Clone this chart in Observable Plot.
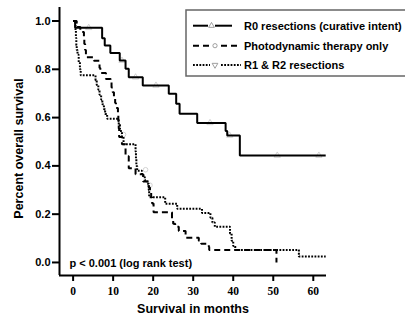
<!DOCTYPE html>
<html>
<head>
<meta charset="utf-8">
<script src="https://cdn.jsdelivr.net/npm/d3@7"></script>
<script src="https://cdn.jsdelivr.net/npm/@observablehq/plot@0.6"></script>
<style>
  html, body { margin: 0; padding: 0; background: #fff; overflow: hidden; }
  #wrap { position: relative; width: 405px; height: 320px; }
</style>
</head>
<body>
<div id="wrap"></div>
<script>
// ---------- data ----------
const seriesNames = ["R0 resections (curative intent)", "Photodynamic therapy only", "R1 & R2 resections"];

const r0Months = [0, 0.5, 7.25, 7.9, 9.3, 11.65, 13.1, 13.9, 17.4, 23.9, 25.75, 26.6, 31, 38.1, 38.5, 41.65, 63.1];
const r0Surv   = [1.0, 0.972, 0.929, 0.899, 0.868, 0.836, 0.802, 0.767, 0.733, 0.699, 0.657, 0.616, 0.578, 0.545, 0.526, 0.443, 0.443];

const pdtMonths = [0, 0.9, 1.8, 2.7, 2.8, 3.0, 3.2, 5.2, 6.6, 6.8, 8.2, 9.4, 9.6, 9.9, 10.2, 10.5, 10.7, 11.2, 11.3, 11.4, 11.5, 12.2, 13.1, 13.9, 15.6, 17.5, 18.9, 19.2, 19.5, 19.75, 20.1, 24.7, 25.0, 25.5, 26.4, 28.1, 31.4, 32.0, 33.9, 34.0, 50.8];
const pdtSurv   = [1.0, 0.975, 0.955, 0.93, 0.905, 0.88, 0.85, 0.835, 0.805, 0.785, 0.76, 0.745, 0.725, 0.705, 0.685, 0.66, 0.64, 0.61, 0.585, 0.555, 0.52, 0.49, 0.44, 0.39, 0.365, 0.335, 0.31, 0.29, 0.27, 0.244, 0.208, 0.18, 0.16, 0.148, 0.13, 0.102, 0.09, 0.077, 0.065, 0.052, 0.0];

const r12Months = [0, 0.6, 0.7, 0.8, 0.9, 1.1, 1.4, 1.7, 1.9, 5.6, 5.9, 6.3, 6.6, 7.0, 7.3, 7.7, 8.0, 8.5, 11.4, 11.7, 12.2, 12.6, 15.6, 15.7, 15.8, 16.0, 17.2, 17.9, 18.5, 18.9, 19.0, 23.0, 26.0, 32.2, 34.3, 34.8, 35.4, 39.2, 39.6, 40.0, 40.5, 56.4, 63.1];
const r12Surv   = [1.0, 0.96, 0.93, 0.90, 0.88, 0.86, 0.83, 0.80, 0.775, 0.755, 0.735, 0.715, 0.695, 0.675, 0.655, 0.635, 0.615, 0.595, 0.57, 0.545, 0.52, 0.49, 0.46, 0.43, 0.40, 0.38, 0.36, 0.34, 0.326, 0.30, 0.27, 0.243, 0.222, 0.205, 0.185, 0.165, 0.148, 0.12, 0.09, 0.068, 0.052, 0.025, 0.025];

// censored observations (light grey markers)
const r0CensMonths = [3.9, 12.2, 15.6, 20.7, 34.2, 39.1, 51, 61.4];
const r0CensSurv   = [0.972, 0.836, 0.767, 0.733, 0.578, 0.526, 0.443, 0.443];
const pdtCensMonths = [12.6, 18.1, 19.2];
const pdtCensSurv   = [0.53, 0.384, 0.32];

const xTicks = [0, 10, 20, 30, 40, 50, 60];
const yTicks = [0.0, 0.2, 0.4, 0.6, 0.8, 1.0];
const xDomain = [-3.4, 63.3];
const yDomain = [-0.054, 1.056];

const xLabel = "Survival in months";
const yLabel = "Percent overall survival";
const pText = "p < 0.001 (log rank test)";

// ---------- build tables ----------
const SANS = "Liberation Sans, Arial, Helvetica, sans-serif";
const SERIF = "Liberation Serif, Times New Roman, serif";
const toRows = (ms, ss) => ms.map((m, i) => ({month: m, surv: ss[i]}));
const r0 = toRows(r0Months, r0Surv);
const pdt = toRows(pdtMonths, pdtSurv);
const r12 = toRows(r12Months, r12Surv);
const r0Cens = toRows(r0CensMonths, r0CensSurv);
const pdtCens = toRows(pdtCensMonths, pdtCensSurv);

const dashes = [null, "6,4", "1.8,1.4"];
const lineOpts = (i) => ({
  x: "month", y: "surv", curve: "step-after", stroke: "#000", strokeWidth: 2,
  strokeDasharray: dashes[i], strokeLinecap: "butt", strokeLinejoin: "miter"
});

const chart = Plot.plot({
  width: 405, height: 320,
  marginLeft: 59, marginRight: 79, marginTop: 7, marginBottom: 45,
  style: {fontFamily: SANS, fontSize: "11px", fontWeight: "bold", background: "#fff", color: "#000"},
  x: {domain: xDomain},
  y: {domain: yDomain},
  marks: [
    Plot.dot(r0Cens, {x: "month", y: "surv", symbol: "triangle", r: 2.3, stroke: "#c8c8c8", fill: "none", strokeWidth: 0.8}),
    Plot.dot(pdtCens, {x: "month", y: "surv", symbol: "circle", r: 2.3, stroke: "#c8c8c8", fill: "none", strokeWidth: 0.8}),
    Plot.line(r12, lineOpts(2)),
    Plot.line(pdt, lineOpts(1)),
    Plot.line(r0, lineOpts(0)),
    Plot.ruleX([xDomain[0]], {stroke: "#000", strokeWidth: 2}),
    Plot.ruleY([yDomain[0]], {stroke: "#000", strokeWidth: 2}),
    Plot.axisY({ticks: yTicks, tickFormat: d3.format(".1f"), tickSize: 7, tickPadding: 2, strokeWidth: 2, label: null, fontSize: 11, fontWeight: "bold", fontFamily: SANS}),
    Plot.axisX({ticks: xTicks, tickSize: 6, strokeWidth: 2, label: null, tickFormat: () => ""}),
    Plot.text(xTicks, {x: (d) => d, frameAnchor: "bottom", dy: 16, fontSize: 11.5, fontWeight: "bold", fontFamily: SERIF, textAnchor: "middle", lineAnchor: "middle"}),
    Plot.text([xLabel], {frameAnchor: "bottom", dy: 33, fontSize: 12.5, fontWeight: "bold", fontFamily: SANS, textAnchor: "middle", lineAnchor: "middle"}),
    Plot.text([yLabel], {frameAnchor: "left", dx: -41, dy: 7, rotate: -90, fontSize: 12.5, fontWeight: "bold", fontFamily: SANS, textAnchor: "middle", lineAnchor: "middle"}),
    Plot.text([pText], {frameAnchor: "bottom-left", dx: 10, dy: -12, fontSize: 11, fontWeight: "bold", fontFamily: SANS, textAnchor: "start", lineAnchor: "middle"})
  ]
});
document.getElementById("wrap").appendChild(chart);

// ---------- legend (overlay) ----------
const leg = d3.select("#wrap").append("svg")
  .attr("width", 405).attr("height", 320)
  .style("position", "absolute").style("left", "0px").style("top", "0px")
  .style("pointer-events", "none");
leg.append("rect").attr("x", 186).attr("y", 10).attr("width", 240).attr("height", 66)
  .attr("fill", "#fff").attr("stroke", "#666").attr("stroke-width", 1.5);
const rowsY = [25.7, 45.7, 65];
const segA = [[193, 208], [193, 209], [193, 210]];
const segB = [[215, 232], [221, 238], [221, 241]];
const symX = [211.5, 215, 215];
const symbols = [d3.symbolTriangle, d3.symbolCircle, d3.symbolTriangle];
seriesNames.forEach((name, i) => {
  const y = rowsY[i];
  [segA[i], segB[i]].forEach(([a, b]) => {
    leg.append("line").attr("x1", a).attr("x2", b).attr("y1", y).attr("y2", y)
      .attr("stroke", "#000").attr("stroke-width", 2)
      .attr("stroke-dasharray", dashes[i]);
  });
  leg.append("path").attr("d", d3.symbol(symbols[i], 14)())
    .attr("transform", `translate(${symX[i]},${y}) rotate(${i === 2 ? 180 : 0})`)
    .attr("fill", "none").attr("stroke", "#888").attr("stroke-width", 0.8);
  leg.append("text").attr("x", 244).attr("y", y).attr("dy", "0.35em")
    .style("font-family", SANS).style("font-weight", "bold").style("font-size", "11px")
    .attr("fill", "#000").text(name);
});
</script>
</body>
</html>
